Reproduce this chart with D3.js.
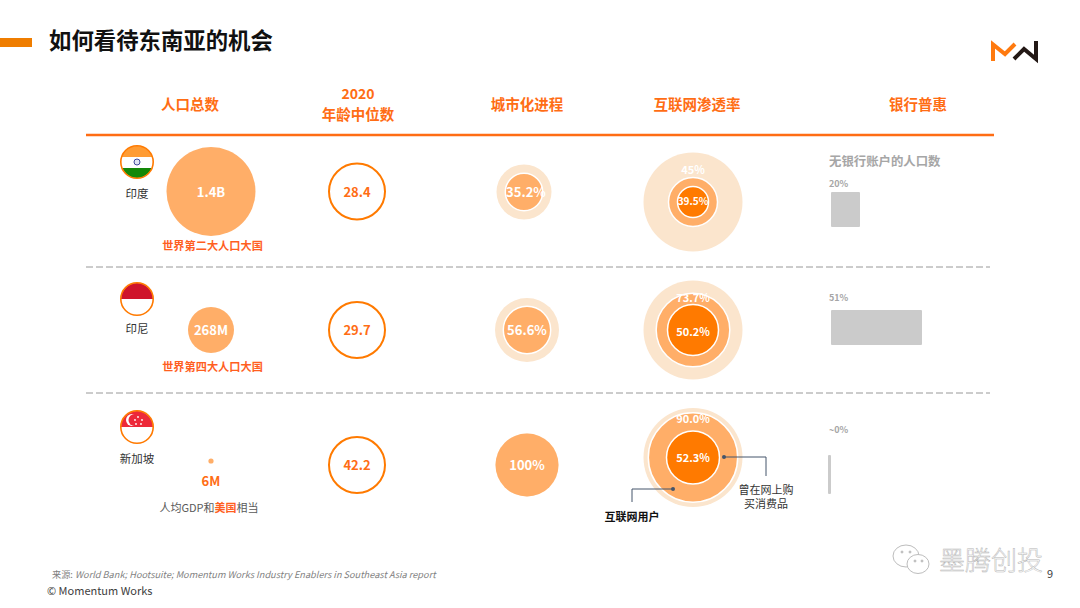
<!DOCTYPE html>
<html>
<head>
<meta charset="utf-8">
<script src="https://cdn.jsdelivr.net/npm/d3@7/dist/d3.min.js"></script>
<style>
  html, body { margin: 0; padding: 0; background: #fff; }
  svg { display: block; font-family: "Noto Sans CJK SC", "Noto Sans", sans-serif; }
</style>
</head>
<body>
<svg id="chart" width="1080" height="608"></svg>
<script>
// data
const countries = ["印度", "印尼", "新加坡"];
const popValues = [1400, 268, 6];
const popLabels = ["1.4B", "268M", "6M"];
const medianAge = [28.4, 29.7, 42.2];
const urbanRate = [35.2, 56.6, 100];
const internetUsers = [45, 73.7, 90.0];
const onlineBuyers = [39.5, 50.2, 52.3];
const internetLabels = ["45%", "73.7%", "90.0%"];
const buyerLabels = ["39.5%", "50.2%", "52.3%"];
const unbanked = [20, 51, 0];
const unbankedLabels = ["20%", "51%", "~0%"];
const headers = ["人口总数", "城市化进程", "互联网渗透率", "银行普惠"];
const popNotes = ["世界第二大人口大国", "世界第四大人口大国"];

const ORANGE = "#ff7a00", TEXT_OR = "#ff6d14", MID = "#ffae68", PALE = "#fbe5cd";

const svg = d3.select("#chart");
const col = { flag: 137, pop: 211, age: 357, urban: 527, net: 693, bank: 831 };
const rowY = d3.scaleOrdinal().domain(countries).range([191.5, 330, 465]);
const flagY = d3.scaleOrdinal().domain(countries).range([162, 299, 427]);

// the slide's bubbles and bars are not strictly proportional, so the scales are piecewise
const rPop = d3.scaleSqrt().domain([6, 268, 1400]).range([2.6, 23, 44.5]);
const rUrban = d3.scaleSqrt().domain([0, 100]).range([0, 31.5]);
const urbanRing = d3.scaleOrdinal().domain(countries).range([27.5, 32, 31.5]);
const rNet = d3.scaleLinear().domain([0, 39.5, 45, 50.2, 100]).range([0, 15.5, 24.5, 25.5, 49.5]);
const xBank = d3.scaleLinear().domain([0, 20, 51]).range([3, 29, 91]);

function label(g, x, y, txt, size, fill, weight, anchor) {
  return g.append("text").attr("x", x).attr("y", y).attr("text-anchor", anchor || "middle")
    .attr("font-size", size).attr("fill", fill).attr("font-weight", weight || 400).text(txt);
}

// title bar
svg.append("rect").attr("x", 0).attr("y", 38).attr("width", 32).attr("height", 9).attr("fill", "#ef7d00");
label(svg, 49, 49, "如何看待东南亚的机会", 22.4, "#111", 700, "start");

// logo
svg.append("path").attr("d", "M993,61V44.5L1005,54L1015,44").attr("fill", "none").attr("stroke", "#ff7a0f").attr("stroke-width", 4);
svg.append("path").attr("d", "M1014,59L1024,49L1036,59V41").attr("fill", "none").attr("stroke", "#231815").attr("stroke-width", 4);

// headers
label(svg, 190, 110, headers[0], 14.5, TEXT_OR, 700);
label(svg, 358, 99, "2020", 14, TEXT_OR, 700);
label(svg, 358, 120, "年龄中位数", 14.5, TEXT_OR, 700);
label(svg, 527, 110, headers[1], 14.5, TEXT_OR, 700);
label(svg, 697, 110, headers[2], 14.5, TEXT_OR, 700);
label(svg, 918, 110, headers[3], 14.5, TEXT_OR, 700);

// rules
svg.append("line").attr("x1", 86).attr("x2", 994).attr("y1", 135).attr("y2", 135).attr("stroke", "#ff6d14").attr("stroke-width", 2.5);
svg.selectAll("line.sep").data([267, 393]).enter().append("line").attr("class", "sep")
  .attr("x1", 86).attr("x2", 990).attr("y1", d => d).attr("y2", d => d)
  .attr("stroke", "#8c8c8c").attr("stroke-width", 0.9).attr("stroke-dasharray", "7 3");

// flags
const defs = svg.append("defs");
countries.forEach((c, i) => {
  defs.append("clipPath").attr("id", "flag" + i).append("circle").attr("cx", col.flag).attr("cy", flagY(c)).attr("r", 16);
  const g = svg.append("g");
  const f = g.append("g").attr("clip-path", `url(#flag${i})`);
  const x0 = col.flag - 17, y0 = flagY(c) - 17;
  if (i === 0) {
    f.append("rect").attr("x", x0).attr("y", y0).attr("width", 34).attr("height", 12).attr("fill", "#ff9c33");
    f.append("rect").attr("x", x0).attr("y", y0 + 23).attr("width", 34).attr("height", 11).attr("fill", "#138808");
    g.append("circle").attr("cx", col.flag).attr("cy", flagY(c)).attr("r", 3).attr("fill", "#dfe3f2").attr("stroke", "#3f4a9b").attr("stroke-width", 1);
  } else {
    const red = i === 1 ? "#cf142b" : "#ed2939";
    f.append("rect").attr("x", x0).attr("y", y0).attr("width", 34).attr("height", 17).attr("fill", red);
    if (i === 2) {
      g.append("circle").attr("cx", col.flag - 5).attr("cy", flagY(c) - 7).attr("r", 6).attr("fill", "#fff");
      g.append("circle").attr("cx", col.flag - 2.5).attr("cy", flagY(c) - 7).attr("r", 6).attr("fill", red);
      g.selectAll("circle.star").data([[0, -11], [4, -8], [3, -4], [-2, -4], [-3, -8]]).enter().append("circle")
        .attr("cx", d => col.flag + 1 + d[0]).attr("cy", d => flagY(c) + d[1] + 1).attr("r", 0.9).attr("fill", "#fff");
    }
  }
  g.append("circle").attr("cx", col.flag).attr("cy", flagY(c)).attr("r", 16.2).attr("fill", "none").attr("stroke", ORANGE).attr("stroke-width", 1.6);
});
label(svg, col.flag, 198, countries[0], 11.5, "#333");
label(svg, col.flag, 333, countries[1], 11.5, "#333");
label(svg, col.flag, 463, countries[2], 11.5, "#333");

// population
const popY = [191.5, 330, 461];
svg.append("g").selectAll("circle").data(popValues).enter().append("circle")
  .attr("cx", col.pop).attr("cy", (d, i) => popY[i]).attr("r", d => rPop(d)).attr("fill", MID);
label(svg, col.pop, 196.5, popLabels[0], 13, "#fff", 700);
label(svg, col.pop, 335, popLabels[1], 13, "#fff", 700);
label(svg, col.pop, 486, popLabels[2], 13, TEXT_OR, 700);
label(svg, 212.5, 250, popNotes[0], 11.2, "#ff5f1f", 700);
label(svg, 212.5, 371, popNotes[1], 11.2, "#ff5f1f", 700);
const gdp = label(svg, 209, 512, "", 11, "#595959");
gdp.append("tspan").text("人均GDP和");
gdp.append("tspan").attr("fill", "#ff5f1f").attr("font-weight", 700).text("美国");
gdp.append("tspan").text("相当");

// median age
svg.append("g").selectAll("circle").data(medianAge).enter().append("circle")
  .attr("cx", col.age).attr("cy", (d, i) => rowY(countries[i])).attr("r", 28)
  .attr("fill", "#fff").attr("stroke", ORANGE).attr("stroke-width", 2);
svg.append("g").selectAll("text").data(medianAge).enter().append("text")
  .attr("x", col.age).attr("y", (d, i) => rowY(countries[i]) + 5)
  .attr("text-anchor", "middle").attr("font-size", 13).attr("font-weight", 700).attr("fill", TEXT_OR)
  .text(d => d.toFixed(1));

// urbanisation
urbanRate.forEach((v, i) => {
  const cy = rowY(countries[i]) + (i === 0 ? 0.5 : 0);
  const cx = i === 0 ? col.urban - 3 : col.urban;
  svg.append("circle").attr("cx", cx).attr("cy", cy).attr("r", urbanRing(countries[i])).attr("fill", PALE);
  svg.append("circle").attr("cx", cx).attr("cy", cy).attr("r", rUrban(v)).attr("fill", MID)
    .attr("stroke", v < 100 ? "#fff" : "none").attr("stroke-width", 1.5);
  label(svg, col.urban - (i === 0 ? 1 : 0), cy + 5, v + "%", 13, "#fff", 700);
});

// internet penetration
const netY = [202, 330, 457.5];
internetUsers.forEach((v, i) => {
  const cy = netY[i];
  svg.append("circle").attr("cx", col.net).attr("cy", cy).attr("r", rNet(100)).attr("fill", PALE);
  svg.append("circle").attr("cx", col.net).attr("cy", cy).attr("r", rNet(v)).attr("fill", MID).attr("stroke", "#fff").attr("stroke-width", 1.5);
  svg.append("circle").attr("cx", col.net).attr("cy", cy).attr("r", rNet(onlineBuyers[i])).attr("fill", ORANGE).attr("stroke", "#fff").attr("stroke-width", 1.5);
  label(svg, col.net, [174, 302, 423][i], internetLabels[i], 11, "#fff", 700);
  label(svg, col.net, cy + (i === 0 ? 3 : 6) - (i === 2 ? 2 : 0), buyerLabels[i], i === 0 ? 10 : 11, "#fff", 700);
});

// callouts
const callouts = [
  { dot: [673, 489], path: "M673,489H632V502" },
  { dot: [724, 457], path: "M724,457H766V476" }
];
callouts.forEach(c => {
  svg.append("path").attr("d", c.path).attr("fill", "none").attr("stroke", "#44546a").attr("stroke-width", 1);
  svg.append("circle").attr("cx", c.dot[0]).attr("cy", c.dot[1]).attr("r", 2).attr("fill", "#44546a");
});
label(svg, 632, 521, "互联网用户", 11, "#111", 700);
label(svg, 766, 494, "曾在网上购", 11, "#333");
label(svg, 766, 508, "买消费品", 11, "#333");

// unbanked bars
label(svg, 829, 166, "无银行账户的人口数", 12.4, "#a6a6a6", 700, "start");
const barY = [192, 310, 455], barH = [35, 35, 39], barLabelY = [187, 301, 433];
svg.append("g").selectAll("rect").data(unbanked).enter().append("rect")
  .attr("x", (d, i) => i === 2 ? 828 : col.bank).attr("y", (d, i) => barY[i])
  .attr("width", d => xBank(d)).attr("height", (d, i) => barH[i]).attr("rx", 1).attr("fill", "#cbcbcb");
unbankedLabels.forEach((t, i) => label(svg, 829, barLabelY[i], t, 9, "#a6a6a6", 700, "start"));

// footer
const src = label(svg, 52, 578, "", 9.2, "#7f7f7f", 400, "start");
src.append("tspan").text("来源: ");
src.append("tspan").attr("font-style", "italic").text("World Bank; Hootsuite; Momentum Works Industry Enablers in Southeast Asia report");
label(svg, 47, 595, "© Momentum Works", 11, "#404040", 400, "start");
label(svg, 1050, 578, "9", 11, "#404040");

// wechat watermark
const wm = svg.append("g").attr("fill", "#fff").attr("stroke", "#bdbdbd").attr("stroke-width", 1);
wm.append("ellipse").attr("cx", 906).attr("cy", 556).attr("rx", 13).attr("ry", 11);
wm.append("ellipse").attr("cx", 918).attr("cy", 564).attr("rx", 11).attr("ry", 9.5);
wm.selectAll("circle").data([[902, 552], [910, 552], [915, 561], [922, 561]]).enter().append("circle")
  .attr("cx", d => d[0]).attr("cy", d => d[1]).attr("r", 1).attr("fill", "#bdbdbd");
label(svg, 991, 570, "墨腾创投", 26, "#fff", 300).attr("stroke", "#b5b5b5").attr("stroke-width", 0.5);
</script>
</body>
</html>
